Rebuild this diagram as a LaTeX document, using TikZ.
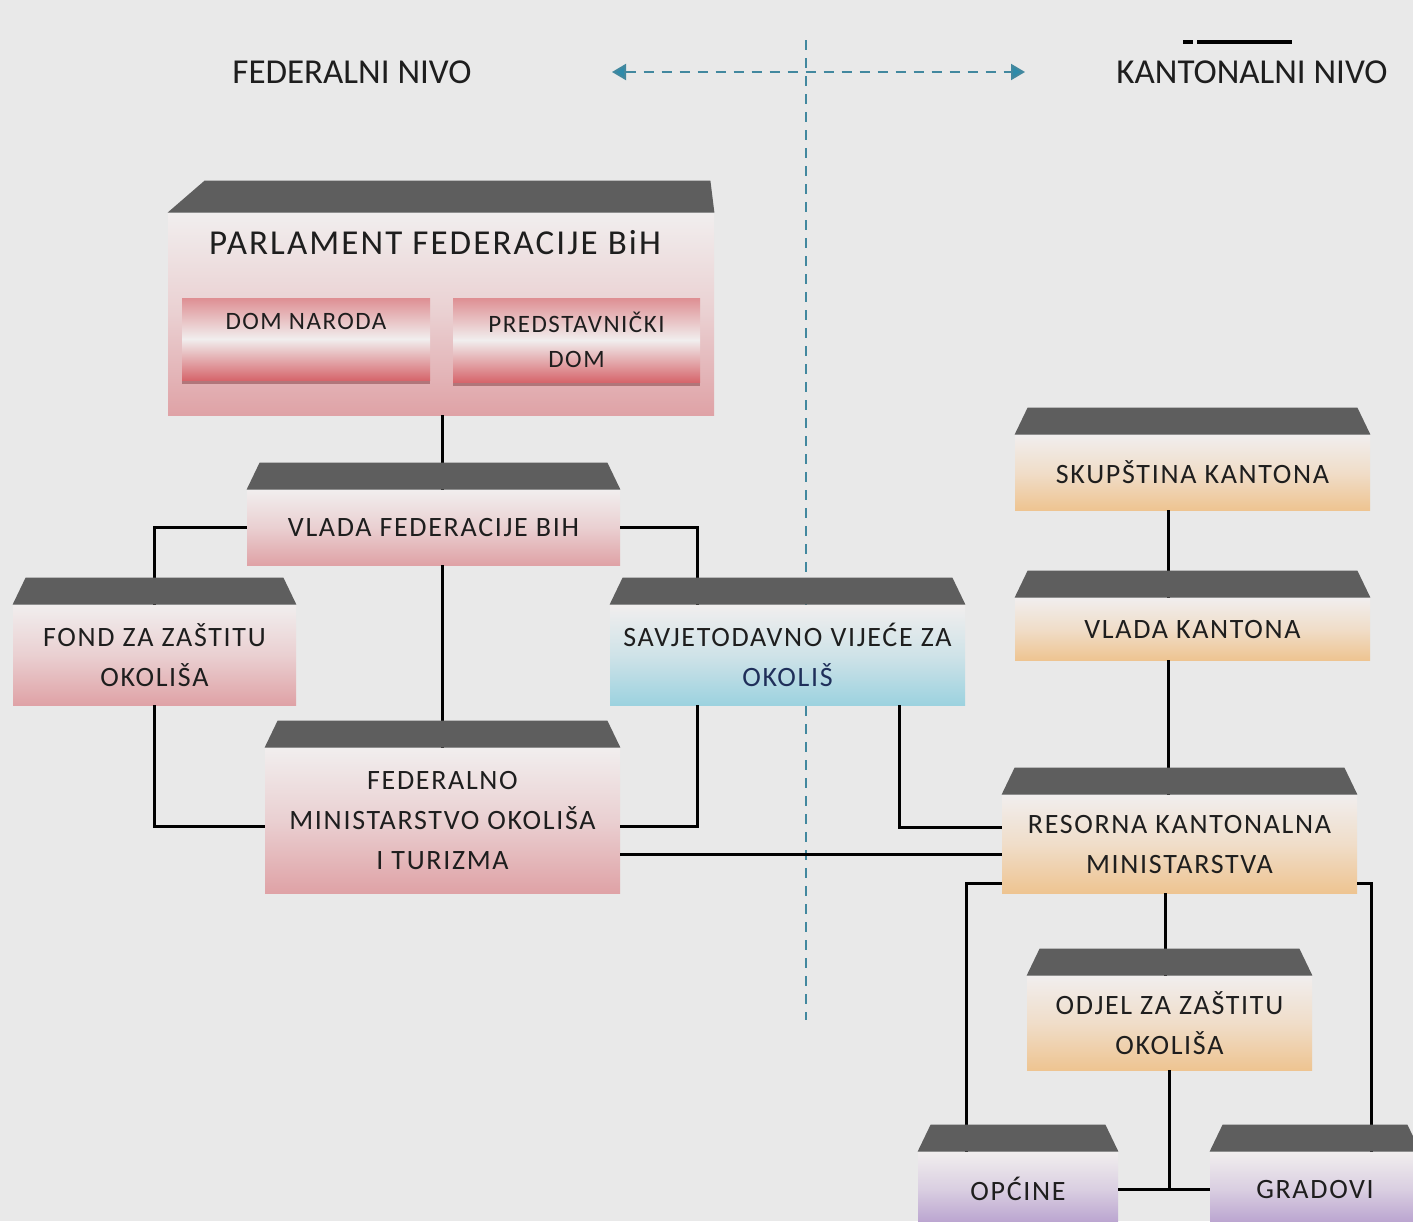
\documentclass[tikz,border=0pt]{standalone}
\usepackage{fontspec}
\setmainfont{Carlito}
\newfontfamily\boxfont{Carlito}[LetterSpace=6]
\usetikzlibrary{calc,arrows.meta,shadows}

\definecolor{bgc}{HTML}{E9E9E9}
\definecolor{capgray}{HTML}{5E5E5E}
\definecolor{paletop}{HTML}{F1EEEE}
\definecolor{fedpink}{HTML}{DFA2A6}
\definecolor{kantorange}{HTML}{EEC491}
\definecolor{councilblue}{HTML}{9CD2DF}
\definecolor{citypurple}{HTML}{B7A0CE}
\definecolor{housered}{HTML}{D6666C}
\definecolor{divblue}{HTML}{2E8BAA}
\definecolor{textc}{HTML}{1E1E1E}
\definecolor{navytext}{HTML}{1F2F5A}

% dark lid on top of a box: name, left inset, right inset, height
\newcommand{\boxcap}[4]{%
  \fill[capgray] (#1.north west) -- (#1.north east)
    -- ($(#1.north east)+(-#3,-#4)$) -- ($(#1.north west)+(#2,-#4)$) -- cycle;}

\begin{document}
\begin{tikzpicture}[x=0.5pt,y=-0.5pt,
  orgbox/.style={inner sep=0pt, align=center, text=textc,
    font=\boxfont\fontsize{14}{20}\selectfont,
    top color=paletop, bottom color=#1, middle color=#1!40!paletop},
  housebox/.style={inner sep=0pt, align=center, text=textc,
    font=\boxfont\fontsize{12.5}{17.5}\selectfont,
    top color=housered!70!paletop, bottom color=housered, middle color=paletop,
    drop shadow={shadow xshift=0pt, shadow yshift=-2pt, fill=housered!60!black}},
  levellabel/.style={font=\fontsize{17.5}{20}\selectfont, text=textc},
  conn/.style={line width=1.5pt, black},
  levelline/.style={line width=1pt, divblue!75!gray, dash pattern=on 5pt off 4pt}]

\fill[bgc] (0,0) rectangle (1413,1221);
\useasboundingbox (0,0) rectangle (1413,1221);
\clip (0,0) rectangle (1413,1221);

% levels
\node[levellabel] (fedlabel) at (352,72) {FEDERALNI NIVO};
\node[levellabel] (kantlabel) at (1252,72) {KANTONALNI NIVO};
\coordinate (mark1) at (1183,42);
\coordinate (mark2) at (1193,42);
\coordinate (mark3) at (1197,42);
\coordinate (mark4) at (1292,42);
\draw[line width=2pt] (mark1) -- (mark2);
\draw[line width=2pt] (mark3) -- (mark4);

\coordinate (divtop) at (806,40);
\coordinate (divbot) at (806,1020);
\coordinate (arrl) at (612,72);
\coordinate (arrr) at (1025,72);
\draw[levelline] (divtop) -- (divbot);
\draw[levelline, {Triangle[fill=divblue,length=7pt,width=8pt]}-{Triangle[fill=divblue,length=7pt,width=8pt]}] (arrl) -- (arrr);

% federal level
\node[orgbox=fedpink, minimum width=273pt, minimum height=101pt] (parl) at (441,314) {};
\node[font=\boxfont\fontsize{17.5}{18}\selectfont, text=textc] (parltitle) at (435,243) {PARLAMENT FEDERACIJE BiH};
\node[housebox, minimum width=124pt, minimum height=41pt] (dom) at (306,339) {DOM NARODA\\ \mbox{}};
\node[housebox, minimum width=123.5pt, minimum height=42pt] (pred) at (576.5,340) {PREDSTAVNIČKI\\DOM};
\node[orgbox=fedpink, minimum width=186.5pt, minimum height=37.5pt] (vlada) at (433.5,527.5) {VLADA FEDERACIJE BIH};
\node[orgbox=fedpink, minimum width=141.5pt, minimum height=50pt] (fond) at (154.5,655) {FOND ZA ZAŠTITU\\OKOLIŠA};
\node[orgbox=councilblue, minimum width=177.5pt, minimum height=50pt] (savj) at (787.5,655) {SAVJETODAVNO VIJEĆE ZA\\\textcolor{navytext}{OKOLIŠ}};
\node[orgbox=fedpink, minimum width=177.5pt, minimum height=72.5pt] (fmin) at (442.5,820.5) {FEDERALNO\\MINISTARSTVO OKOLIŠA\\I TURIZMA};

% cantonal level
\node[orgbox=kantorange, minimum width=177.5pt, minimum height=37.5pt] (skup) at (1192.5,472.5) {SKUPŠTINA KANTONA};
\node[orgbox=kantorange, minimum width=177.5pt, minimum height=31pt] (vkant) at (1192.5,629) {VLADA KANTONA};
\node[orgbox=kantorange, minimum width=177.5pt, minimum height=49pt] (resorna) at (1179.5,844) {RESORNA KANTONALNA\\MINISTARSTVA};
\node[orgbox=kantorange, minimum width=142.5pt, minimum height=47pt] (odjel) at (1169.5,1023) {ODJEL ZA ZAŠTITU\\OKOLIŠA};
\node[orgbox=citypurple, minimum width=100pt, minimum height=37pt] (opc) at (1018,1189) {OPĆINE};
\node[orgbox=citypurple, minimum width=105pt, minimum height=37pt] (grad) at (1315,1189) {GRADOVI};

% connectors
\draw[conn] (parl.south -| fmin.north) -- (vlada.north -| fmin.north);
\draw[conn] (vlada.west) -| (fond.north);
\draw[conn] (vlada.east) -| ($(savj.north west)+(88,0)$);
\draw[conn] (fmin.north |- vlada.south) -- (fmin.north);
\draw[conn] (fond.south) |- ([yshift=-3pt]fmin.west);
\draw[conn] ($(savj.south west)+(88,0)$) |- ([yshift=-3pt]fmin.east);
\draw[conn] ($(savj.south west)+(290,0)$) |- ([yshift=8.5pt]resorna.west);
\draw[conn] ([yshift=-17pt]fmin.east) -- ([yshift=-17pt]fmin.east -| resorna.west);
\draw[conn] ([xshift=-12pt]skup.south) -- ([xshift=-12pt]vkant.north);
\draw[conn] ([xshift=-12pt]vkant.south) -- ([xshift=-12pt]vkant.south |- resorna.north);
\draw[conn] ([yshift=-19.5pt]resorna.west) -| ([xshift=-26pt]opc.north);
\draw[conn] ([yshift=-19.5pt]resorna.east) -| ([xshift=28pt]grad.north);
\draw[conn] ([xshift=-2pt]odjel.north |- resorna.south) -- ([xshift=-2pt]odjel.north);
\draw[conn] (odjel.south) -- (odjel.south |- opc.east);
\draw[conn] (opc.east) -- (grad.west);

% lids
\boxcap{parl}{37}{4}{32}
\foreach \b in {vlada,fond,savj,fmin,skup,vkant,resorna,odjel,opc,grad}
  \boxcap{\b}{13}{13}{27};

\end{tikzpicture}
\end{document}
